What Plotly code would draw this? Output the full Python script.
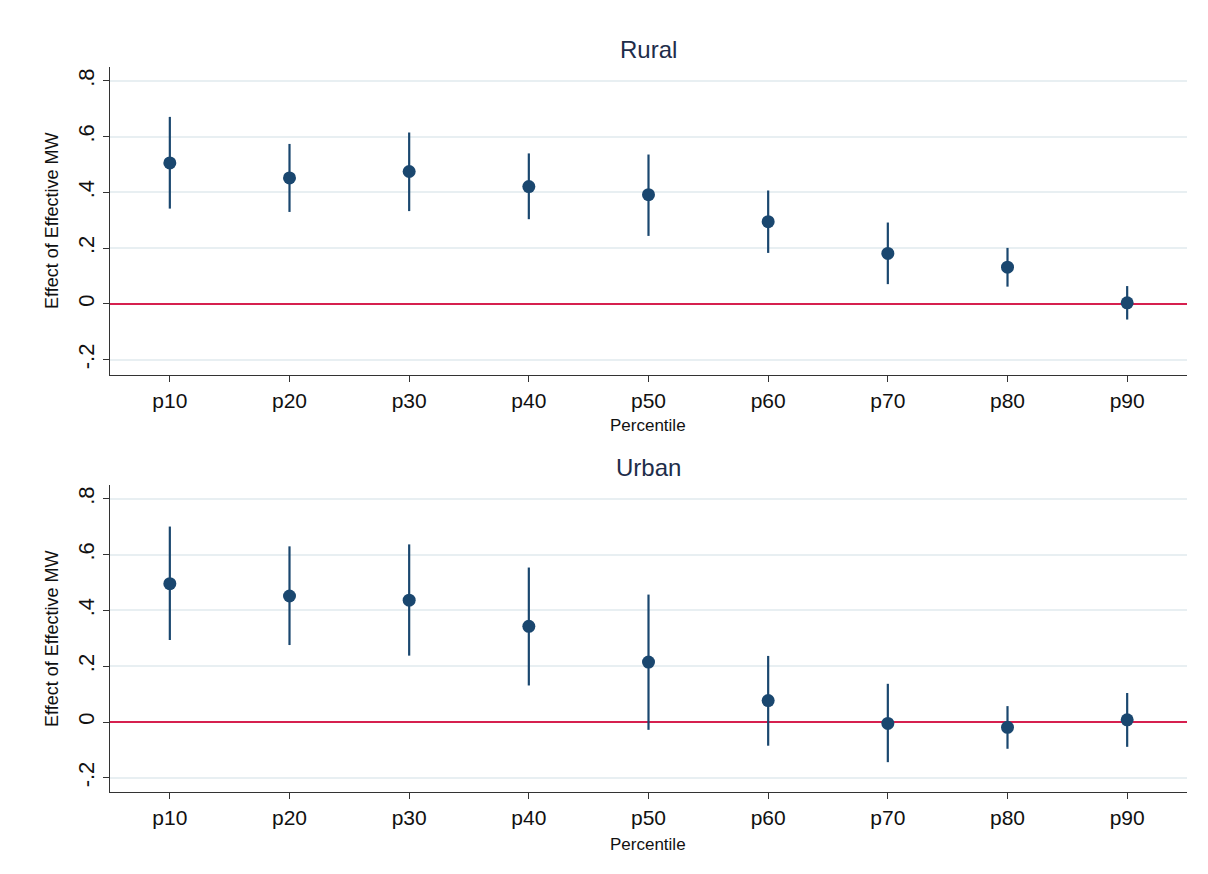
import plotly.graph_objects as go

categories = ["p10", "p20", "p30", "p40", "p50", "p60", "p70", "p80", "p90"]

rural_est = [0.506, 0.452, 0.475, 0.421, 0.392, 0.295, 0.181, 0.132, 0.004]
rural_hi = [0.671, 0.574, 0.615, 0.540, 0.536, 0.407, 0.292, 0.201, 0.064]
rural_lo = [0.342, 0.330, 0.333, 0.304, 0.244, 0.183, 0.071, 0.062, -0.056]

urban_est = [0.496, 0.452, 0.437, 0.343, 0.215, 0.077, -0.005, -0.019, 0.008]
urban_hi = [0.701, 0.630, 0.637, 0.554, 0.457, 0.237, 0.137, 0.057, 0.104]
urban_lo = [0.294, 0.276, 0.238, 0.131, -0.028, -0.085, -0.144, -0.096, -0.089]

ytick_vals = [-0.2, 0, 0.2, 0.4, 0.6, 0.8]
ytick_text = ["-.2", "0", ".2", ".4", ".6", ".8"]

panel_titles = ["Rural", "Urban"]
x_title = "Percentile"
y_title = "Effect of Effective MW"

NAVY = "#1a476f"
RED = "#d6204f"
GRID = "#e8eff2"
AXIS = "#333333"
FONT = "Liberation Sans, Arial, sans-serif"

# page body has an 8px margin, so figure pixel = screen pixel - 8
OFF = 8
W, H = 1200, 866


def px(v):
    return (v - OFF) / W


def py(v):
    return 1 - (v - OFF) / H


x_dom = [px(110), px(1187)]
y_doms = [[py(375), py(67)], [py(792), py(485)]]

fig = go.Figure()

series = [(rural_est, rural_hi, rural_lo), (urban_est, urban_hi, urban_lo)]
for i, (est, hi, lo) in enumerate(series):
    xa = "x" if i == 0 else "x2"
    ya = "y" if i == 0 else "y2"
    fig.add_trace(go.Scatter(
        x=list(range(len(categories))), y=est,
        mode="markers",
        marker=dict(color=NAVY, size=13),
        error_y=dict(type="data", symmetric=False,
                     array=[h - e for h, e in zip(hi, est)],
                     arrayminus=[e - l for e, l in zip(est, lo)],
                     color=NAVY, thickness=2.2, width=0),
        xaxis=xa, yaxis=ya, showlegend=False, hoverinfo="skip",
    ))

common_x = dict(
    range=[-0.5, 8.5], tickmode="array",
    tickvals=list(range(len(categories))), ticktext=categories,
    showgrid=False, zeroline=False,
    showline=True, linecolor=AXIS, linewidth=1.3,
    ticks="outside", ticklen=6, tickcolor=AXIS, tickwidth=1.3,
    ticklabelstandoff=1,
    tickfont=dict(family=FONT, size=21, color="#111111"),
    domain=x_dom,
)
common_y = dict(
    tickmode="array", tickvals=ytick_vals, ticktext=ytick_text,
    tickangle=-90,
    showgrid=True, gridcolor=GRID, gridwidth=1.5,
    zeroline=True, zerolinecolor=RED, zerolinewidth=2,
    showline=True, linecolor=AXIS, linewidth=1.3,
    ticks="outside", ticklen=6, tickcolor=AXIS, tickwidth=1.3,
    tickfont=dict(family=FONT, size=22, color="#111111"),
)

fig.update_layout(
    width=W, height=H,
    margin=dict(l=0, r=0, t=0, b=0),
    paper_bgcolor="white", plot_bgcolor="white",
    xaxis=dict(common_x, anchor="y"),
    xaxis2=dict(common_x, anchor="y2"),
    yaxis=dict(common_y, domain=y_doms[0], range=[-0.255, 0.85], anchor="x"),
    yaxis2=dict(common_y, domain=y_doms[1], range=[-0.251, 0.85], anchor="x2"),
)

annotations = []
title_ys = [50, 467]
perc_ys = [426, 844]
ytitle_ys = [221, 639]
for i in range(2):
    annotations.append(dict(
        text=panel_titles[i], x=px(648), y=py(title_ys[i]),
        xref="paper", yref="paper", showarrow=False,
        xanchor="center", yanchor="middle",
        font=dict(family=FONT, size=24, color="#1e2d4a")))
    annotations.append(dict(
        text=x_title, x=px(648), y=py(perc_ys[i]),
        xref="paper", yref="paper", showarrow=False,
        xanchor="center", yanchor="middle",
        font=dict(family=FONT, size=17, color="#111111")))
    annotations.append(dict(
        text=y_title, x=px(52), y=py(ytitle_ys[i]),
        xref="paper", yref="paper", showarrow=False, textangle=-90,
        xanchor="center", yanchor="middle",
        font=dict(family=FONT, size=18, color="#111111")))
fig.update_layout(annotations=annotations)

fig.write_html("out.html")
